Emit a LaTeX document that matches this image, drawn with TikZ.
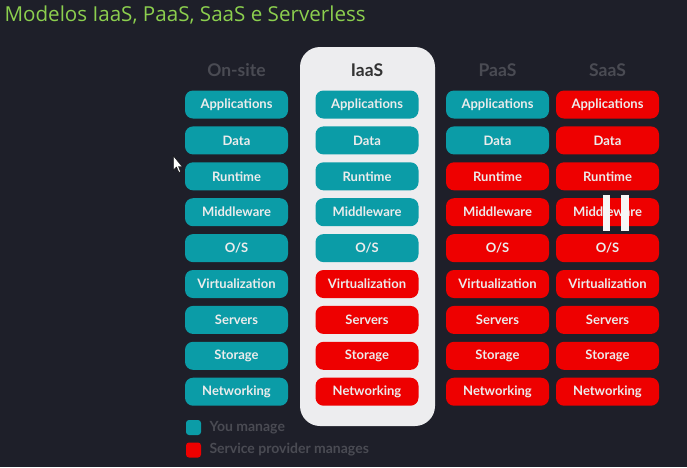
\documentclass[tikz,border=0pt]{standalone}
\usepackage{fontspec}
\setmainfont{Lato}
\newfontfamily\titlefont{Open Sans}
\begin{document}
\definecolor{bgdark}{HTML}{1E1F29}
\definecolor{tealbox}{HTML}{0B9CA7}
\definecolor{redbox}{HTML}{EE0000}
\definecolor{boxtext}{HTML}{ECECEC}
\definecolor{headgray}{HTML}{4A4B53}
\definecolor{panelgray}{HTML}{EDEDEF}
\definecolor{titlegreen}{HTML}{8CCF4E}
\begin{tikzpicture}[x=1pt,y=-1pt,
  layer/.style={rounded corners=8pt,minimum width=103pt,minimum height=28pt,
    inner sep=0pt,text=boxtext,font=\fontsize{13}{15}\selectfont\bfseries},
  mine/.style={layer,fill=tealbox},
  theirs/.style={layer,fill=redbox},
  colhead/.style={font=\fontsize{17.5}{20}\selectfont\bfseries,text=headgray},
  legendtext/.style={anchor=west,font=\fontsize{14}{16}\selectfont\bfseries,text=headgray}]
  % background and page size
  \fill[bgdark] (0,0) rectangle (687,467);
  \useasboundingbox (0,0) rectangle (687,467);
  % title
  \node[anchor=west,text=titlegreen,font=\titlefont\fontsize{20.6}{23}\selectfont] (title) at (1,15) {Modelos IaaS, PaaS, SaaS e Serverless};
  % highlighted IaaS column
  \fill[panelgray,rounded corners=20pt] (300,47) rectangle (435,426);
  % column headings
  \node[colhead] (hOn) at (236.5,70) {On-site};
  \node[colhead,text=black!80] (hIaaS) at (367,70) {IaaS};
  \node[colhead] (hPaaS) at (497.5,70) {PaaS};
  \node[colhead] (hSaaS) at (607.5,70) {SaaS};
  % stacks, one row per layer; rows from the given index down are run by the provider
  \foreach \lbl [count=\r] in {Applications,Data,Runtime,Middleware,O/S,Virtualization,Servers,Storage,Networking}{
    \pgfmathsetmacro{\yy}{104.5+(\r-1)*35.9}
    \node[mine] (on\r) at (236.5,\yy) {\lbl};
    \ifnum\r<6 \node[mine] (ia\r) at (367,\yy) {\lbl};
    \else \node[theirs] (ia\r) at (367,\yy) {\lbl};\fi
    \ifnum\r<3 \node[mine] (pa\r) at (497.5,\yy) {\lbl};
    \else \node[theirs] (pa\r) at (497.5,\yy) {\lbl};\fi
    \node[theirs] (sa\r) at (607.5,\yy) {\lbl};
  }
  % legend
  \node[fill=tealbox,rounded corners=3pt,minimum size=15pt,inner sep=0pt] (kMine) at (193.5,427.5) {};
  \node[legendtext] (kMineT) at (206,427.5) {You manage};
  \node[fill=redbox,rounded corners=3pt,minimum size=15pt,inner sep=0pt] (kTheirs) at (193.5,450) {};
  \node[legendtext] (kTheirsT) at (206,450) {Service provider manages};
  % pause marker over the SaaS middleware box
  \fill[white!93!gray] (602.5,195) rectangle (610,231);
  \fill[white!93!gray] (621,195) rectangle (629,231);
  % pointer
  \fill[white,draw=black,line width=0.4pt] (173.5,156) -- (173.5,170) -- (176.5,167) -- (179,172.5) -- (180.5,171.5) -- (178.5,166.5) -- (182,166.5) -- cycle;
\end{tikzpicture}
\end{document}
